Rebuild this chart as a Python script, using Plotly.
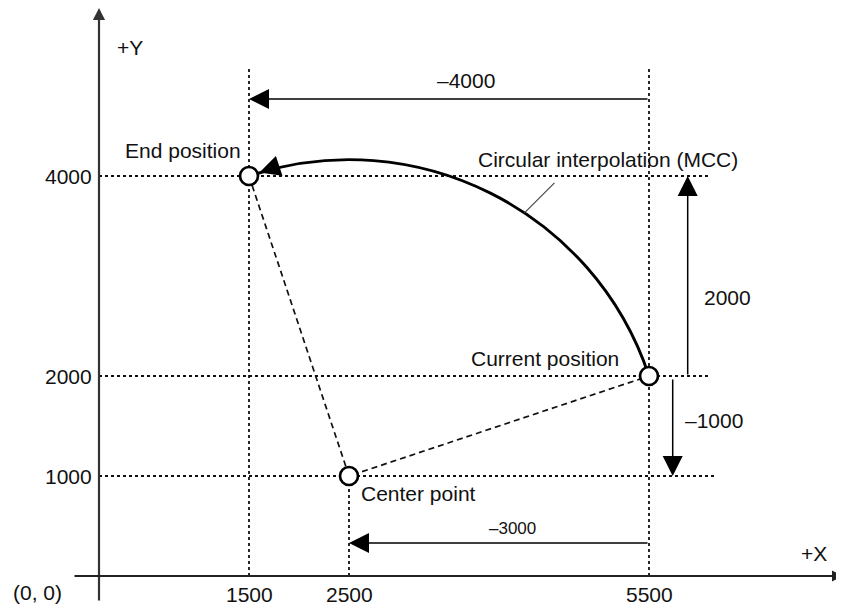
import math
import plotly.graph_objects as go

# ---------------- data ----------------
POINT_NAMES = ["End position", "Current position", "Center point"]
POINT_X = [1500, 5500, 2500]
POINT_Y = [4000, 2000, 1000]

X_TICK_VALUES = [1500, 2500, 5500]
X_TICK_LABELS = ["1500", "2500", "5500"]
Y_TICK_VALUES = [1000, 2000, 4000]
Y_TICK_LABELS = ["1000", "2000", "4000"]

# relative distances (end / center measured from current position)
DIM_VALUES = [-4000, 2000, -3000, -1000]
DIM_LABELS = ["\u20134000", "2000", "\u20133000", "\u20131000"]

AXIS_LABELS = ["+X", "+Y", "(0, 0)"]
ARC_LABEL = "Circular interpolation (MCC)"

# ---------------- style ----------------
FONT = "Liberation Sans, Arial, Helvetica, sans-serif"
FS = 21
TXT = "#111111"

end_x, cur_x, cen_x = POINT_X
end_y, cur_y, cen_y = POINT_Y

fig = go.Figure()

# dotted guide lines
dot = dict(color="#111111", width=1.8, dash="3px,3px")
shapes = []
guide_top = 5100
for gx, y1 in [(end_x, guide_top), (cur_x, guide_top), (cen_x, cen_y)]:
    shapes.append(dict(type="line", xref="x", yref="y", x0=gx, x1=gx, y0=0, y1=y1,
                       line=dot, layer="below"))
for gy, x1 in [(end_y, 6100), (cur_y, 6100), (cen_y, 6180)]:
    shapes.append(dict(type="line", xref="x", yref="y", x0=0, x1=x1, y0=gy, y1=gy,
                       line=dot, layer="below"))

# circular arc (centre -> current -> end), cubic Bezier for the 90 degree arc
sx, sy = cur_x - cen_x, cur_y - cen_y
ex, ey = end_x - cen_x, end_y - cen_y
r = math.hypot(sx, sy)
a0 = math.atan2(sy, sx)
a1 = math.atan2(ey, ex)
sweep = a1 - a0
k = 4.0 / 3.0 * math.tan(sweep / 4.0)
c1 = (cur_x + k * (-sy), cur_y + k * sx)
c2 = (end_x - k * (-ey), end_y - k * ex)
path = (f"M{cur_x},{cur_y} C{c1[0]:.1f},{c1[1]:.1f} "
        f"{c2[0]:.1f},{c2[1]:.1f} {end_x},{end_y}")
shapes.append(dict(type="path", xref="x", yref="y", path=path,
                   line=dict(color="#000000", width=2.9), layer="below"))

# leader line from the arc to its label
la = math.radians(56.3)
lx0, ly0 = cen_x + r * math.cos(la), cen_y + r * math.sin(la)
shapes.append(dict(type="line", xref="x", yref="y", x0=lx0, y0=ly0,
                   x1=lx0 + 300, y1=ly0 + 300,
                   line=dict(color="#444444", width=1.1)))

# dashed radius lines
fig.add_trace(go.Scatter(
    x=[end_x, cen_x, cur_x], y=[end_y, cen_y, cur_y], mode="lines",
    line=dict(color="#111111", width=1.7, dash="6px,4px"),
    hoverinfo="skip", showlegend=False))

# position markers
fig.add_trace(go.Scatter(
    x=POINT_X, y=POINT_Y, mode="markers", text=POINT_NAMES,
    marker=dict(size=18, color="white", line=dict(color="#000000", width=2.7)),
    hoverinfo="text", showlegend=False))

ann = []


def arrow(hx, hy, tx, ty, width, size, color="#000000", standoff=0):
    ann.append(dict(x=hx, y=hy, ax=tx, ay=ty, xref="x", yref="y", axref="x", ayref="y",
                    text="", showarrow=True, arrowhead=2, arrowsize=size,
                    arrowwidth=width, arrowcolor=color, standoff=standoff))


# axes
arrow(0, 5680, 0, -260, 2.2, 1.1, "#333333")
arrow(7440, 0, -260, 0, 2.0, 1.1, "#222222")

# dimension arrows
arrow(cur_x + DIM_VALUES[0], 4770, cur_x, 4770, 1.5, 2.67)
arrow(5887, cur_y + DIM_VALUES[1], 5887, cur_y, 1.5, 2.67)
arrow(cur_x + DIM_VALUES[2], 330, cur_x, 330, 1.5, 2.67)
arrow(5737, cur_y + DIM_VALUES[3], 5737, cur_y - 20, 1.5, 2.67)

# arrowhead at the end of the arc (tangent direction)
tdx, tdy = ey / r, -ex / r  # direction pointing back along the arc
arrow(end_x, end_y, end_x + 330 * tdx, end_y + 330 * tdy, 2.6, 1.6, standoff=11)


def label(x, y, text, xanchor="center", size=FS):
    ann.append(dict(x=x, y=y, xref="x", yref="y", text=text, showarrow=False,
                    xanchor=xanchor, yanchor="middle",
                    font=dict(family=FONT, size=size, color=TXT)))


# tick labels
for v, t in zip(X_TICK_VALUES, X_TICK_LABELS):
    label(v, -180, t)
for v, t in zip(Y_TICK_VALUES, Y_TICK_LABELS):
    label(-50, v, t, xanchor="right")

label(7150, 230, AXIS_LABELS[0])
label(310, 5290, AXIS_LABELS[1])
label(-620, -160, AXIS_LABELS[2])

# point labels
label(840, 4260, POINT_NAMES[0])
label(5220, 2180, POINT_NAMES[1], xanchor="right")
label(2600, 830, POINT_NAMES[2], xanchor="left")
label(3770, 4170, ARC_LABEL, xanchor="left")

# dimension labels
label(3670, 4960, DIM_LABELS[0])
label(6285, 2790, DIM_LABELS[1])
label(4130, 480, DIM_LABELS[2], size=17)
label(6150, 1560, DIM_LABELS[3])

# page has an 8px body margin, so the plot area is offset accordingly
fig.update_layout(
    width=844, height=607,
    margin=dict(l=0, r=0, t=0, b=0),
    paper_bgcolor="white", plot_bgcolor="white",
    xaxis=dict(range=[-910, 7530], visible=False, fixedrange=True),
    yaxis=dict(range=[-390, 5680], visible=False, fixedrange=True),
    shapes=shapes, annotations=ann, showlegend=False,
)

fig.write_html("out.html")
